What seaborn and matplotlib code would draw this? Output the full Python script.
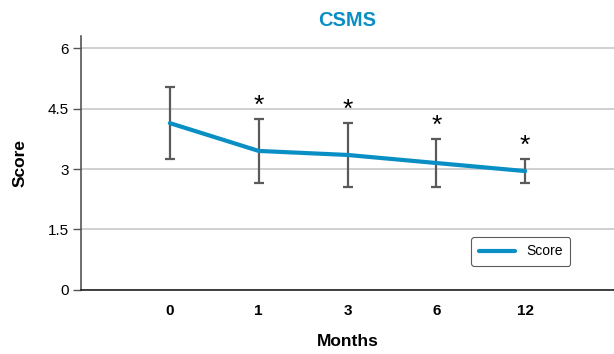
import matplotlib
matplotlib.use("Agg")
import matplotlib.pyplot as plt
import seaborn as sns
import pandas as pd
import numpy as np

months = ["0", "1", "3", "6", "12"]
means = [4.14, 3.45, 3.35, 3.15, 2.95]
upper = [5.03, 4.24, 4.14, 3.74, 3.25]
lower = [3.25, 2.65, 2.55, 2.55, 2.65]
significant = [False, True, True, True, True]

sns.set_style("white")
plt.rcParams['font.family'] = ['Liberation Sans', 'DejaVu Sans']
plt.rcParams['text.color'] = 'black'
plt.rcParams['axes.labelcolor'] = 'black'
plt.rcParams['xtick.color'] = 'black'
plt.rcParams['ytick.color'] = 'black'

BLUE = "#0a8fc4"
fig = plt.figure(figsize=(6.14, 3.54), dpi=100)
ax = fig.add_axes([0.132, 0.181, 0.868, 0.717])

df = pd.DataFrame({"Months": months, "Score": means})
x = np.arange(len(months))
df["x"] = x
sns.lineplot(data=df, x="x", y="Score", ax=ax, color=BLUE, linewidth=3, label="Score", zorder=3)
m = np.array(means)
ax.errorbar(x, m, yerr=[m - np.array(lower), np.array(upper) - m], fmt="none",
            ecolor="#5a5a5a", elinewidth=1.6, capsize=3.5, capthick=1.6, zorder=2)
for xi, up, s in zip(x, upper, significant):
    if s:
        ax.text(xi, up + 0.33, "*", ha="center", va="center", fontsize=19, color="black")

ax.set_xlim(-1, 5)
ax.set_ylim(0, 6.3)
ax.set_yticks([0, 1.5, 3, 4.5, 6])
ax.set_yticklabels(["0", "1.5", "3", "4.5", "6"])
ax.set_xticks(x)
ax.set_xticklabels(months, fontweight="bold")
ax.yaxis.grid(True, color="#c8c8c8", linewidth=1.2)
ax.set_axisbelow(True)
ax.tick_params(axis="y", length=6, width=1, color="#555555", labelcolor="black", labelsize=11, pad=3, left=True)
ax.tick_params(axis="x", length=0, labelsize=11, labelcolor="black", pad=10)
for sp in ["top", "right"]:
    ax.spines[sp].set_visible(False)
ax.spines["left"].set_color("#555555")
ax.spines["left"].set_linewidth(1.2)
ax.spines["bottom"].set_color("#222222")
ax.spines["bottom"].set_linewidth(1.2)

ax.set_xlabel("Months", fontsize=12.5, fontweight="bold", labelpad=12, color="black")
ax.set_ylabel("Score", fontsize=12.5, fontweight="bold", labelpad=14, color="black")
ax.set_title("CSMS", fontsize=14.5, fontweight="bold", color=BLUE, pad=7)

leg = ax.legend(loc="lower right", bbox_to_anchor=(0.918, 0.094), borderaxespad=0, frameon=True,
                fontsize=10, handlelength=2.6, fancybox=True, edgecolor="#333333", borderpad=0.55)
leg.get_frame().set_linewidth(0.8)
for t in leg.get_texts():
    t.set_color("black")

fig.savefig("out.png", dpi=100)
